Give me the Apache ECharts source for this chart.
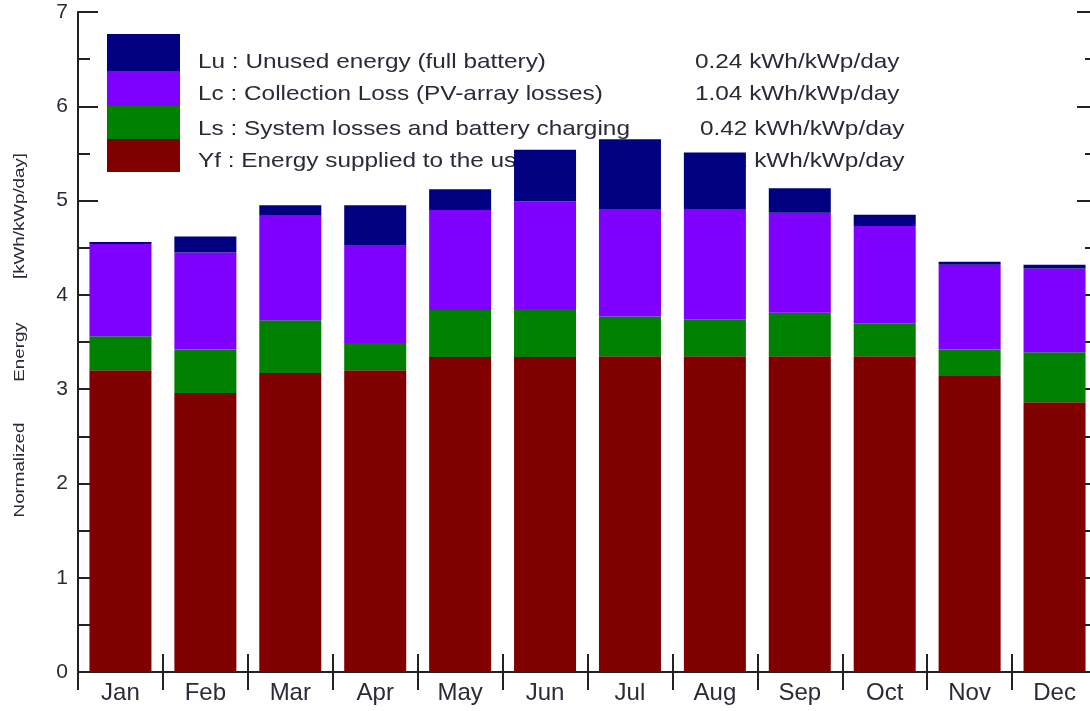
<!DOCTYPE html>
<html>
<head>
<meta charset="utf-8">
<script src="https://cdn.jsdelivr.net/npm/echarts@6/dist/echarts.min.js"></script>
<style>
html,body{margin:0;padding:0;background:#fff;}
#chart{width:1090px;height:711px;}
</style>
</head>
<body>
<div id="chart"></div>
<script>
const months = ['Jan','Feb','Mar','Apr','May','Jun','Jul','Aug','Sep','Oct','Nov','Dec'];
const Yf = [3.20, 2.96, 3.17, 3.20, 3.34, 3.34, 3.35, 3.35, 3.35, 3.35, 3.14, 2.86];
const Ls = [0.36, 0.46, 0.56, 0.29, 0.50, 0.51, 0.42, 0.39, 0.46, 0.35, 0.28, 0.53];
const Lc = [0.98, 1.03, 1.11, 1.04, 1.06, 1.14, 1.14, 1.17, 1.06, 1.03, 0.90, 0.89];
const Lu = [0.02, 0.17, 0.11, 0.42, 0.22, 0.55, 0.74, 0.60, 0.26, 0.12, 0.03, 0.04];
const legendLabels = ['Lu : Unused energy (full battery)', 'Lc : Collection Loss (PV-array losses)', 'Ls : System losses and battery charging', 'Yf : Energy supplied to the user'];
const legendValues = ['0.24 kWh/kWp/day', '1.04 kWh/kWp/day', '0.42 kWh/kWp/day', '3.22 kWh/kWp/day'];
const colors = ['#000080', '#8000FF', '#008000', '#800000'];
const yNameWords = ['Normalized', 'Energy', '[kWh/kWp/day]'];

const chart = echarts.init(document.getElementById('chart'), null, {renderer: 'canvas'});
const FONT = '"Liberation Sans", Arial, sans-serif';
const TXT = '#2a2a38';

const graphics = [];
// legend swatch
const swY = [34, 71, 106, 139, 172];
for (let i = 0; i < 4; i++) {
  graphics.push({type: 'rect', z: 0, shape: {x: 107, y: swY[i], width: 73, height: swY[i+1] - swY[i]}, style: {fill: colors[i]}});
}
const rowY = [62, 94, 129, 161];
const valX = [695, 695, 700, 700];
for (let i = 0; i < 4; i++) {
  graphics.push({type: 'text', z: 0, x: 198, y: rowY[i], scaleX: 1.16,
    style: {text: legendLabels[i], font: '21px ' + FONT, fill: TXT, textVerticalAlign: 'middle', textAlign: 'left'}});
  graphics.push({type: 'text', z: 0, x: valX[i], y: rowY[i], scaleX: 1.16,
    style: {text: legendValues[i], font: '21px ' + FONT, fill: TXT, textVerticalAlign: 'middle', textAlign: 'left'}});
}
const nameY = [470, 352, 216];
for (let i = 0; i < 3; i++) {
  graphics.push({type: 'text', z: 0, x: 20, y: nameY[i], rotation: Math.PI / 2, scaleX: 1.25,
    style: {text: yNameWords[i], font: '15px ' + FONT, fill: TXT, textVerticalAlign: 'middle', textAlign: 'center'}});
}

const axisLineStyle = {color: '#222', width: 2};
const yBase = {
  type: 'value', min: 0, max: 7, interval: 1,
  axisLine: {show: true, lineStyle: axisLineStyle},
  axisTick: {show: true, inside: true, length: 20, lineStyle: {color: '#222', width: 2}},
  minorTick: {show: true, splitNumber: 2, length: 12, lineStyle: {color: '#222', width: 2}},
  splitLine: {show: false}
};
const xBase = {
  type: 'category', data: months, boundaryGap: true,
  axisLine: {show: true, lineStyle: axisLineStyle},
  axisTick: {show: true, inside: true, length: 18, lineStyle: {color: '#222', width: 2}},
  splitLine: {show: false}
};

const seriesNames = ['Yf', 'Ls', 'Lc', 'Lu'];
const seriesData = [Yf, Ls, Lc, Lu];
const seriesColors = ['#800000', '#008000', '#8000FF', '#000080'];

chart.setOption({
  animation: false,
  backgroundColor: '#fff',
  grid: {left: 78, width: 1019, top: 12, bottom: 39, containLabel: false, outerBoundsMode: 'none'},
  xAxis: [
    Object.assign({}, xBase, {position: 'bottom', axisLabel: {fontSize: 24, fontFamily: FONT, color: TXT, margin: 9}}),
    Object.assign({}, xBase, {position: 'top', axisLabel: {show: false}})
  ],
  yAxis: [
    Object.assign({}, yBase, {position: 'left', axisLabel: {fontSize: 21, fontFamily: FONT, color: TXT, margin: 10}}),
    Object.assign({}, yBase, {position: 'right', axisLabel: {show: false}})
  ],
  graphic: graphics,
  series: seriesNames.map((n, i) => ({
    name: n, type: 'bar', stack: 'total', barWidth: 62, z: 5,
    xAxisIndex: 0, yAxisIndex: 0,
    data: seriesData[i],
    itemStyle: {color: seriesColors[i]}
  }))
});
</script>
</body>
</html>
